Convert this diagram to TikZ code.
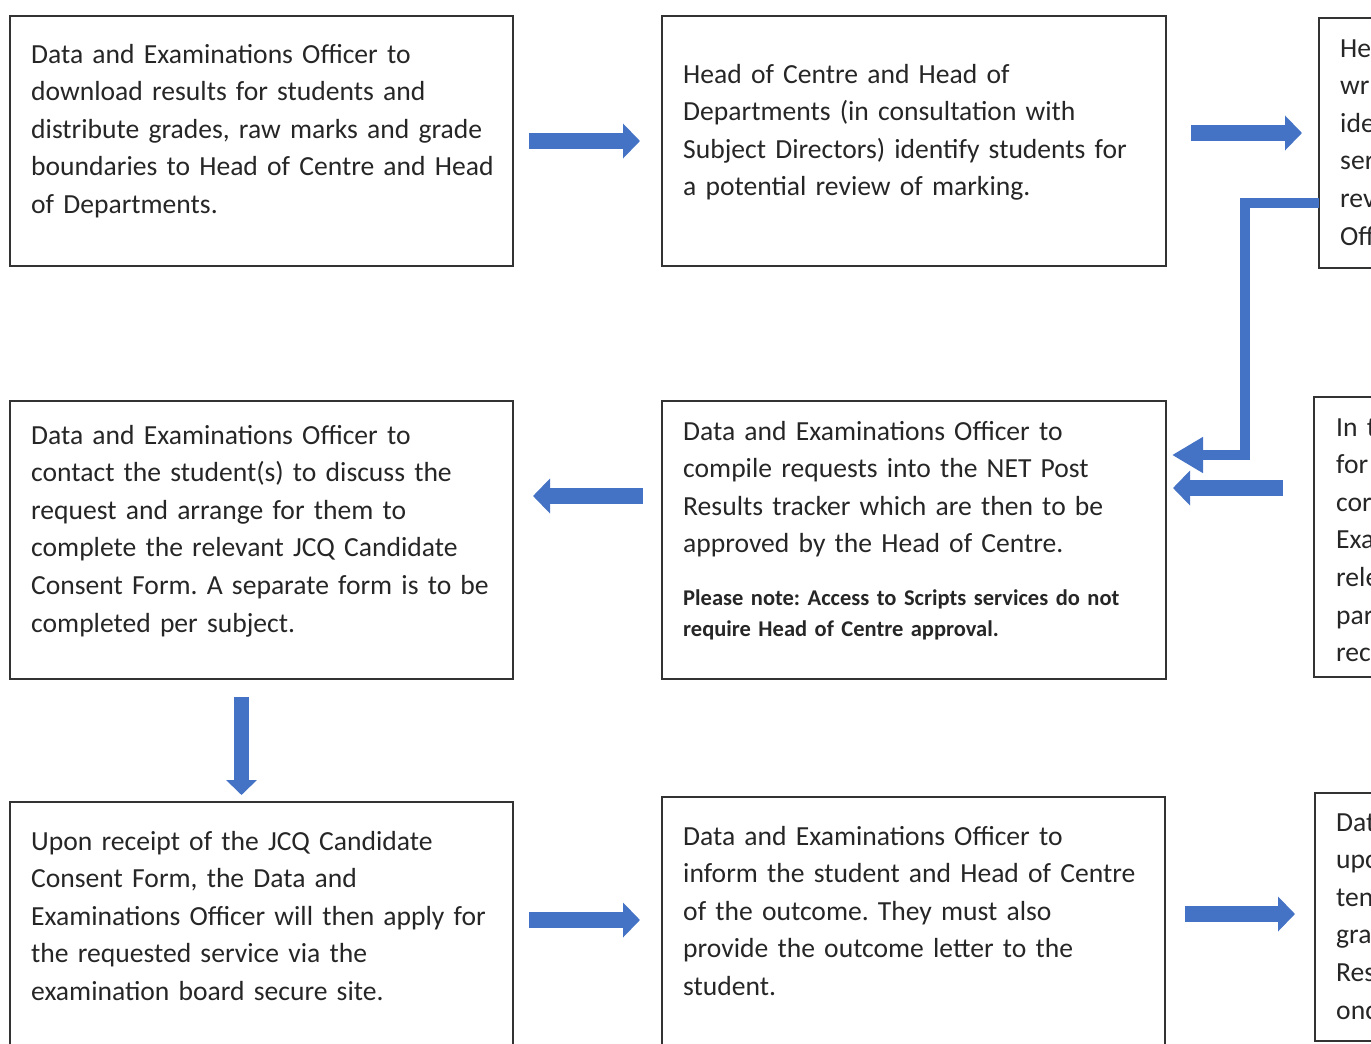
\documentclass[tikz,border=0pt]{standalone}
\usepackage{fontspec}
\setmainfont{Carlito}
\usepackage{tikz}
\usetikzlibrary{arrows.meta}
\definecolor{flowblue}{HTML}{4472C4}
\definecolor{ink}{HTML}{262626}
\frenchspacing

\begin{document}
\begin{tikzpicture}[
    x=1pt, y=-1pt,
    box/.style={
      draw=black!80,
      line width=1.8pt,
      rectangle,
      anchor=north west,
      inner sep=0pt,
      outer sep=0pt,
      minimum width=503pt,
      minimum height=250pt
    },
    txt/.style={
      anchor=base west,
      inner sep=0pt,
      text width=480pt,
      align=left,
      text=ink,
      font=\fontsize{27.6}{37.6}\selectfont
    },
    note/.style={txt, font=\bfseries\fontsize{22.5}{31.5}\selectfont},
    flow/.style={draw=flowblue, line width=16pt, -{Triangle[length=17pt,width=34pt]}},
    flowv/.style={line width=15pt, -{Triangle[length=15pt,width=30pt]}},
    elbow/.style={draw=flowblue, line width=10pt, line join=miter, -{Triangle[length=31pt,width=34pt]}},
    every edge/.style={flow}
  ]
  \useasboundingbox (0,0) rectangle (1371,1044);
  \clip (0,0) rectangle (1371,1044);

  % boxes
  \node[box] (download) at (10,16) {};
  \node[box, minimum width=504pt] (identify) at (662,16) {};
  \node[box, minimum width=200pt] (request) at (1319,18) {};
  \node[box, minimum height=278pt] (contact) at (10,401) {};
  \node[box, minimum width=504pt, minimum height=278pt] (compile) at (662,401) {};
  \node[box, minimum width=200pt, minimum height=280pt] (enquiry) at (1314,397) {};
  \node[box, minimum height=260pt] (apply) at (10,802) {};
  \node[box, minimum height=260pt] (outcome) at (662,797) {};
  \node[box, minimum width=200pt, minimum height=248pt] (update) at (1315,793) {};

  % texts
  \node[txt] (downloadtxt) at ([shift={(21,47)}]download.north west)
    {Data and Examinations Officer to\\download results for students and\\distribute grades, raw marks and grade\\boundaries to Head of Centre and Head\\of Departments.};
  \node[txt] (identifytxt) at ([shift={(21,67)}]identify.north west)
    {Head of Centre and Head of\\Departments (in consultation with\\Subject Directors) identify students for\\a potential review of marking.};
  \node[txt, text width=150pt] (requesttxt) at ([shift={(21,39)}]request.north west)
    {He\\wri\\ide\\ser\\rev\\Off};
  \node[txt] (contacttxt) at ([shift={(21,43)}]contact.north west)
    {Data and Examinations Officer to\\contact the student(s) to discuss the\\request and arrange for them to\\complete the relevant JCQ Candidate\\Consent Form. A separate form is to be\\completed per subject.};
  \node[txt] (compiletxt) at ([shift={(21,39)}]compile.north west)
    {Data and Examinations Officer to\\compile requests into the NET Post\\Results tracker which are then to be\\approved by the Head of Centre.};
  \node[note] (compilenote) at ([shift={(21,204)}]compile.north west)
    {Please note: Access to Scripts services do not\\require Head of Centre approval.};
  \node[txt, text width=150pt] (enquirytxt) at ([shift={(22,39)}]enquiry.north west)
    {In t\\for\\cor\\Exa\\rele\\par\\rec};
  \node[txt] (applytxt) at ([shift={(21,48)}]apply.north west)
    {Upon receipt of the JCQ Candidate\\Consent Form, the Data and\\Examinations Officer will then apply for\\the requested service via the\\examination board secure site.};
  \node[txt] (outcometxt) at ([shift={(21,48)}]outcome.north west)
    {Data and Examinations Officer to\\inform the student and Head of Centre\\of the outcome. They must also\\provide the outcome letter to the\\student.};
  \node[txt, text width=150pt] (updatetxt) at ([shift={(21,38)}]update.north west)
    {Dat\\upc\\ten\\gra\\Res\\onc};

  % arrows
  \path ([xshift=16pt]download.east) edge ([xshift=-22pt]identify.west)
        ([shift={(25,-8)}]identify.east) edge ([shift={(-17,-10)}]request.west)
        ([shift={(-31,-49)}]enquiry.west) edge ([shift={(7,-52)}]compile.east)
        ([shift={(-19,-44)}]compile.west) edge ([shift={(20,-44)}]contact.east)
        ([shift={(-20,18)}]contact.south) edge[flowv] ([shift={(-20,-7)}]apply.north)
        ([shift={(16,-12)}]apply.east) edge ([shift={(-22,-7)}]outcome.west)
        ([shift={(20,-13)}]outcome.east) edge ([shift={(-20,-3)}]update.west);
  \draw[elbow] ([yshift=-60pt]request.west) -| ([shift={(79,-85)}]compile.east)
    -- ([shift={(6,-85)}]compile.east);
\end{tikzpicture}
\end{document}
